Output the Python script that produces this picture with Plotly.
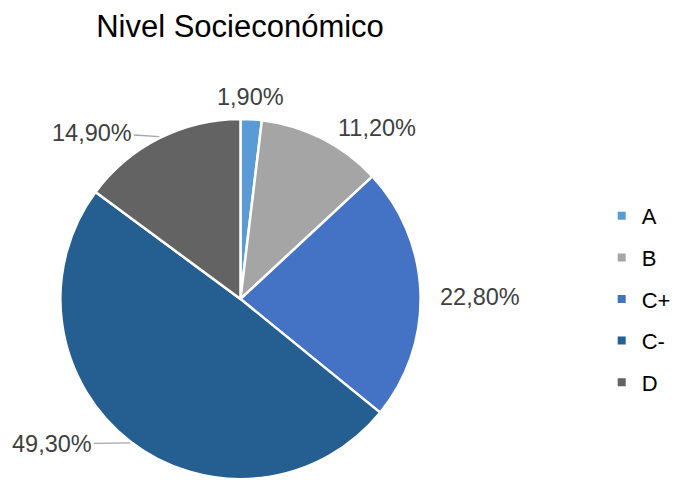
import math
import plotly.graph_objects as go

labels = ["A", "B", "C+", "C-", "D"]
values = [1.9, 11.2, 22.8, 49.3, 14.9]
colors = ["#5B9BD5", "#A5A5A5", "#4472C4", "#255E91", "#636363"]
title_text = "Nivel Socieconómico"

# label styling: pixel offset of each label from its slice edge, and leader line on/off
label_dx = [-1, 55, 59, -78, -67]
label_dy = [-20, -9, 4, 1, -4]
leader = [False, False, False, True, True]

W, H = 676, 481
PX0, PX1, PY0, PY1 = 61, 425, 117, 481  # pie domain in pixels
CX, CY, R = (PX0 + PX1) / 2, (PY0 + PY1) / 2, (PX1 - PX0) / 2
FONT = "Liberation Sans, Arial"

text = [f"{v:.2f}%".replace(".", ",") for v in values]

fig = go.Figure()
fig.add_trace(go.Pie(
    labels=labels, values=values, text=text, textinfo="none",
    sort=False, direction="clockwise", rotation=0,
    marker=dict(colors=colors, line=dict(color="white", width=2.5)),
    showlegend=False, hoverinfo="label+text",
    domain=dict(x=[PX0 / W, PX1 / W], y=[1 - PY1 / H, 1 - PY0 / H]),
))
for lab, col in zip(labels, colors):
    fig.add_trace(go.Scatter(
        x=[None], y=[None], mode="markers", name=lab, legendgroup=lab,
        marker=dict(symbol="square", size=8, color=col),
    ))

total = sum(values)
cum = 0.0
annotations = []
for v, t, dx, dy, ld in zip(values, text, label_dx, label_dy, leader):
    mid = (cum + v / 2) / total * 2 * math.pi
    cum += v
    px = CX + R * math.sin(mid)
    py = CY - R * math.cos(mid)
    annotations.append(dict(
        x=px / W, y=1 - py / H, xref="paper", yref="paper", text=t,
        showarrow=True, ax=dx, ay=dy, arrowhead=0, arrowwidth=1.3,
        arrowcolor="#A6A6A6" if ld else "rgba(0,0,0,0)",
        font=dict(family=FONT, size=23.5, color="#404040"),
    ))

fig.update_layout(
    width=W, height=H, margin=dict(l=0, r=0, t=0, b=0),
    paper_bgcolor="white", plot_bgcolor="white",
    title=dict(text=title_text, x=240 / W, xanchor="center", y=1 - 26 / H, yanchor="middle",
               font=dict(family=FONT, size=31, color="black")),
    xaxis=dict(visible=False), yaxis=dict(visible=False),
    legend=dict(x=608 / W, xanchor="left", y=1 - 195 / H, yanchor="top",
                tracegroupgap=10, font=dict(family=FONT, size=22, color="black"),
                itemwidth=30),
    annotations=annotations,
)
fig.write_html("out.html")
